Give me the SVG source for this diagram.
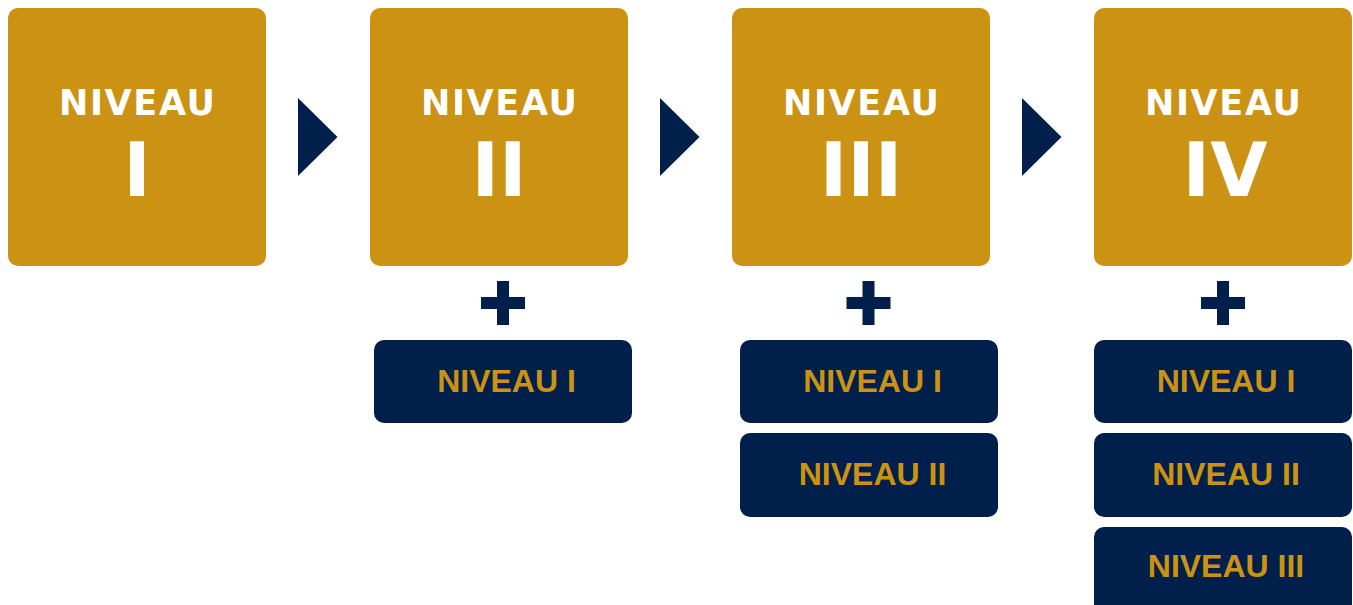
<svg xmlns="http://www.w3.org/2000/svg" width="1353" height="605" viewBox="0 0 1353 605">
<style>
.gold{fill:#CB9213}
.navy{fill:#001F4A}
.title{font-family:"DejaVu Sans",sans-serif;font-weight:700;font-size:35px;fill:#FFFFFF;text-anchor:middle}
.num{font-family:"DejaVu Sans",sans-serif;font-weight:700;font-size:74px;fill:#FFFFFF;text-anchor:middle}
.sub{font-family:"Liberation Sans",Arial,sans-serif;font-weight:700;font-size:32px;fill:#CB9213;text-anchor:middle}
</style>
<defs>
<g id="plus"><rect x="-22" y="-6" width="44" height="12"/><rect x="-6" y="-22" width="12" height="44"/></g>
</defs>
<rect width="1353" height="605" fill="#FFFFFF"/>
<g id="level1">
<rect class="gold" x="8" y="8" width="258" height="258" rx="10"/>
<text class="title" x="137" y="115" textLength="156" lengthAdjust="spacing">NIVEAU</text>
<text class="num" x="137" y="196">I</text>
</g>
<g id="level2">
<rect class="gold" x="370" y="8" width="258" height="258" rx="10"/>
<text class="title" x="499" y="115" textLength="156" lengthAdjust="spacing">NIVEAU</text>
<text class="num" x="499" y="196">II</text>
</g>
<g id="level3">
<rect class="gold" x="732" y="8" width="258" height="258" rx="10"/>
<text class="title" x="861" y="115" textLength="156" lengthAdjust="spacing">NIVEAU</text>
<text class="num" x="861" y="196">III</text>
</g>
<g id="level4">
<rect class="gold" x="1094" y="8" width="258" height="258" rx="10"/>
<text class="title" x="1223" y="115" textLength="156" lengthAdjust="spacing">NIVEAU</text>
<text class="num" x="1225" y="196">IV</text>
</g>
<g id="plus-signs" class="navy">
<use href="#plus" x="503" y="303"/>
<use href="#plus" x="868.5" y="303"/>
<use href="#plus" x="1223" y="303"/>
</g>
<g id="level2-includes">
<rect class="navy" x="374" y="340" width="258" height="83" rx="10"/>
<text class="sub" x="506.5" y="392">NIVEAU I</text>
</g>
<g id="level3-includes">
<rect class="navy" x="740" y="340" width="258" height="83" rx="10"/>
<text class="sub" x="872.5" y="392">NIVEAU I</text>
<rect class="navy" x="740" y="433" width="258" height="84" rx="10"/>
<text class="sub" x="872.5" y="485">NIVEAU II</text>
</g>
<g id="level4-includes">
<rect class="navy" x="1094" y="340" width="258" height="83" rx="10"/>
<text class="sub" x="1226" y="392">NIVEAU I</text>
<rect class="navy" x="1094" y="433" width="258" height="84" rx="10"/>
<text class="sub" x="1226" y="485">NIVEAU II</text>
<rect class="navy" x="1094" y="527" width="258" height="90" rx="10"/>
<text class="sub" x="1226" y="577">NIVEAU III</text>
</g>
<g id="connectors" class="navy">
<polygon points="298,98 337.5,137 298,176"/>
<polygon points="660,98 699.5,137 660,176"/>
<polygon points="1022,98 1061.5,137 1022,176"/>
</g>
</svg>
